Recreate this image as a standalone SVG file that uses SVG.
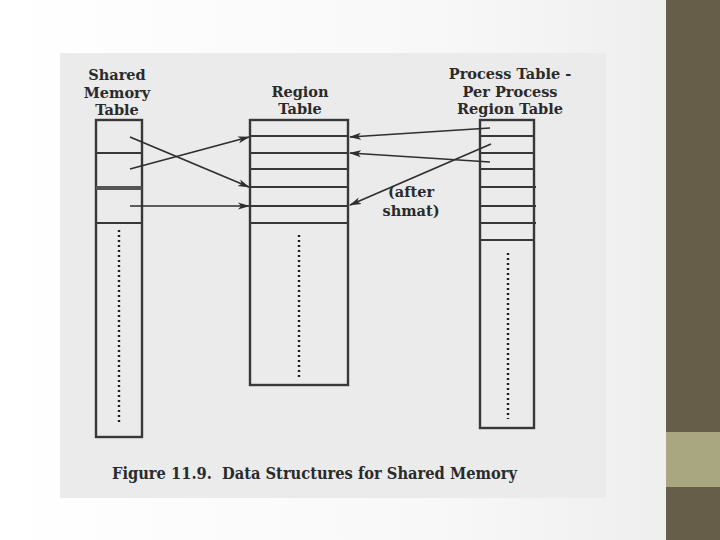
<svg xmlns="http://www.w3.org/2000/svg" width="720" height="540" viewBox="0 0 720 540">
  <defs>
    <linearGradient id="slideBg" x1="0" y1="0" x2="1" y2="0">
      <stop offset="0" stop-color="#ffffff"/>
      <stop offset="0.6" stop-color="#f8f8f8"/>
      <stop offset="1" stop-color="#ececec"/>
    </linearGradient>
    <marker id="arr" markerWidth="12" markerHeight="8" refX="11" refY="4" orient="auto" markerUnits="userSpaceOnUse">
      <path d="M0,0.5 L12,4 L0,7.5 L3,4 Z" fill="#2e2e2e"/>
    </marker>
    <style>
      .lbl { font-family: "DejaVu Serif", "Liberation Serif", serif; font-weight: bold; font-size: 14.5px; fill: #2a2a2a; text-anchor: middle; }
      .box { fill: none; stroke: #383838; stroke-width: 2.4; }
      .row { stroke: #383838; stroke-width: 1.8; }
      .thick { stroke: #555; stroke-width: 4; }
      .dots { stroke: #1e1e1e; stroke-width: 2.4; stroke-dasharray: 2 3; }
      .conn { stroke: #2e2e2e; stroke-width: 1.7; fill: none; marker-end: url(#arr); }
    </style>
  </defs>

  <rect x="0" y="0" width="720" height="540" fill="url(#slideBg)"/>
  <rect x="666" y="0" width="54" height="540" fill="#665e48"/>
  <rect x="666" y="432" width="54" height="55" fill="#a9a77f"/>

  <!-- scanned figure background -->
  <rect x="60" y="53" width="546" height="445" fill="#ebebeb"/>

  <g id="shared-memory-table">
    <text class="lbl" x="117" y="80">Shared</text>
    <text class="lbl" x="117" y="98">Memory</text>
    <text class="lbl" x="117" y="115">Table</text>
    <rect class="box" x="96" y="120" width="46" height="317"/>
    <line class="row" x1="96" y1="153" x2="142" y2="153"/>
    <line class="thick" x1="96" y1="188" x2="142" y2="188"/>
    <line class="row" x1="96" y1="223" x2="142" y2="223"/>
    <line class="dots" x1="119" y1="230" x2="119" y2="422"/>
  </g>

  <g id="region-table">
    <text class="lbl" x="300" y="97">Region</text>
    <text class="lbl" x="300" y="114">Table</text>
    <rect class="box" x="250" y="120" width="98" height="265"/>
    <line class="row" x1="250" y1="136" x2="348" y2="136"/>
    <line class="row" x1="250" y1="153" x2="348" y2="153"/>
    <line class="row" x1="250" y1="169" x2="348" y2="169"/>
    <line class="row" x1="250" y1="187" x2="348" y2="187"/>
    <line class="row" x1="250" y1="206" x2="348" y2="206"/>
    <line class="row" x1="250" y1="223" x2="348" y2="223"/>
    <line class="dots" x1="299" y1="235" x2="299" y2="377"/>
  </g>

  <g id="process-region-table">
    <text class="lbl" x="510" y="79">Process Table -</text>
    <text class="lbl" x="510" y="97">Per Process</text>
    <text class="lbl" x="510" y="114">Region Table</text>
    <rect class="box" x="480" y="120" width="54" height="308"/>
    <line class="row" x1="480" y1="136" x2="534" y2="136"/>
    <line class="row" x1="480" y1="153" x2="534" y2="153"/>
    <line class="row" x1="480" y1="169" x2="534" y2="169"/>
    <line class="row" x1="480" y1="187" x2="536" y2="187" stroke-width="2.4"/>
    <line class="row" x1="480" y1="206" x2="536" y2="206" stroke-width="2.4"/>
    <line class="row" x1="480" y1="223" x2="536" y2="223" stroke-width="2.4"/>
    <line class="row" x1="480" y1="240" x2="534" y2="240"/>
    <line class="dots" x1="508" y1="253" x2="508" y2="419"/>
  </g>

  <g id="note-after-shmat">
    <text class="lbl" x="411" y="197">(after</text>
    <text class="lbl" x="411" y="216">shmat)</text>
  </g>

  <g id="connectors">
    <line class="conn" x1="130" y1="137" x2="249" y2="187"/>
    <line class="conn" x1="130" y1="169" x2="249" y2="137"/>
    <line class="conn" x1="130" y1="206" x2="249" y2="206"/>
    <line class="conn" x1="490" y1="128" x2="350" y2="137"/>
    <line class="conn" x1="490" y1="162" x2="350" y2="153"/>
    <line class="conn" x1="491" y1="144" x2="350" y2="205"/>
  </g>

  <g id="caption">
    <text x="112" y="479" xml:space="preserve" textLength="405" lengthAdjust="spacingAndGlyphs" style="font-family: 'DejaVu Serif', 'Liberation Serif', serif; font-weight: bold; font-size: 16px; fill: #2a2a2a; white-space: pre;">Figure 11.9.  Data Structures for Shared Memory</text>
  </g>
</svg>
